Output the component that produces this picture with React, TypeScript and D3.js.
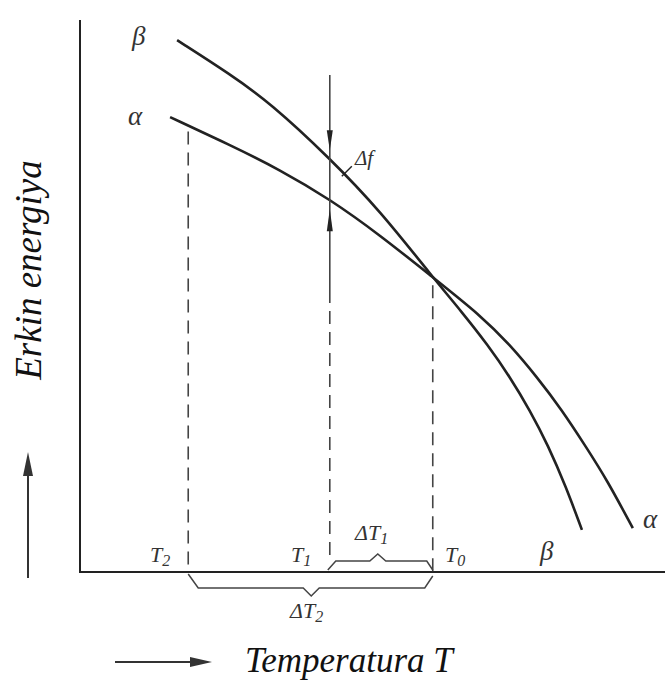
import React from "react";
import * as d3 from "d3";

const W = 671;
const H = 682;

// Curve data (temperature units 0..100, free-energy units 0..100)
const betaT = [16.6, 25.6, 32.5, 42.7, 51.3, 60.3, 65.3, 69.7, 73.5, 76.9, 80.0, 83.1, 85.8];
const betaF = [96.0, 89.9, 84.7, 74.7, 65.2, 53.2, 46.9, 41.0, 35.2, 29.2, 22.9, 15.3, 7.6];
const alphaT = [15.4, 25.6, 34.2, 42.7, 51.3, 60.3, 68.4, 73.5, 78.1, 82.4, 86.3, 90.1, 94.5];
const alphaF = [82.1, 77.1, 72.6, 67.3, 60.8, 53.2, 46.4, 41.0, 35.2, 29.2, 22.9, 16.6, 7.9];

// Characteristic temperatures
const T2 = 18.5;
const T1 = 42.7;
const T0 = 60.3;

const serif = "'Liberation Serif', 'DejaVu Serif', serif";
const ink = "#222";

export default function App() {
  const x = d3.scaleLinear().domain([0, 100]).range([80, 665]);
  const y = d3.scaleLinear().domain([0, 100]).range([572, 18]);

  const line = d3
    .line<[number, number]>()
    .x((d) => x(d[0]))
    .y((d) => y(d[1]))
    .curve(d3.curveBasis);

  const beta: [number, number][] = betaT.map((t, i) => [t, betaF[i]]);
  const alpha: [number, number][] = alphaT.map((t, i) => [t, alphaF[i]]);

  const fAt = (ts: number[], fs: number[], t: number) =>
    d3.scaleLinear().domain(ts).range(fs)(t);

  const x0 = x(0);
  const yAxis = y(0);
  const xT2 = x(T2);
  const xT1 = x(T1);
  const xT0 = x(T0);
  const yBetaT1 = y(fAt(betaT, betaF, T1));
  const yAlphaT1 = y(fAt(alphaT, alphaF, T1));
  const yAlphaT2 = y(fAt(alphaT, alphaF, T2));
  const yCross = y(fAt(alphaT, alphaF, T0));

  const dash = "13 8";

  return (
    <svg
      width={W}
      height={H}
      style={{ position: "absolute", left: 0, top: 0, background: "#fff" }}
    >
      <rect width={W} height={H} fill="#fff" />
      {/* axes */}
      <path
        d={`M${x0},${y(100) + 2} L${x0},${yAxis} L${x(100)},${yAxis}`}
        fill="none"
        stroke={ink}
        strokeWidth={2}
      />
      {/* curves */}
      <path d={line(beta) || ""} fill="none" stroke={ink} strokeWidth={2.6} />
      <path d={line(alpha) || ""} fill="none" stroke={ink} strokeWidth={2.6} />

      {/* T2 dashed */}
      <line x1={xT2} x2={xT2} y1={yAlphaT2 + 6} y2={yAxis} stroke="#444" strokeWidth={1.6} strokeDasharray={dash} />
      {/* T1 line: solid top part, dashed lower */}
      <line x1={xT1} x2={xT1} y1={75} y2={290} stroke="#444" strokeWidth={1.6} />
      <line x1={xT1} x2={xT1} y1={290} y2={yAxis - 10} stroke="#444" strokeWidth={1.6} strokeDasharray={dash} />
      {/* T0 dashed */}
      <line x1={xT0} x2={xT0} y1={yCross + 8} y2={yAxis} stroke="#444" strokeWidth={1.6} strokeDasharray={dash} />

      {/* arrows on T1 */}
      <path
        d={`M${xT1},${yBetaT1 - 8} L${xT1 - 3},${yBetaT1 - 28} L${xT1 + 3},${yBetaT1 - 28} Z`}
        fill={ink}
      />
      <path
        d={`M${xT1},${yAlphaT1 + 10} L${xT1 - 3},${yAlphaT1 + 32} L${xT1 + 3},${yAlphaT1 + 32} Z`}
        fill={ink}
      />
      {/* Δf leader */}
      <line x1={xT1 + 12} y1={yBetaT1 + 18} x2={xT1 + 22} y2={yBetaT1 + 8} stroke={ink} strokeWidth={1.4} />
      <text x={355} y={165} fontFamily={serif} fontStyle="italic" fontSize={21} fill="#333">Δf</text>

      {/* braces */}
      <path
        d={`M${xT1 - 2},${yAxis - 2} L${xT1 + 6},${yAxis - 11} L${xT1 + 40},${yAxis - 11} L${xT1 + 48},${yAxis - 18} L${xT1 + 56},${yAxis - 11} L${xT0 - 6},${yAxis - 11} L${xT0},${yAxis - 2}`}
        fill="none"
        stroke="#444"
        strokeWidth={1.5}
      />
      <path
        d={`M${xT2},${yAxis + 2} L${xT2 + 10},${yAxis + 16} L${xT2 + 115},${yAxis + 16} L${xT2 + 123},${yAxis + 24} L${xT2 + 131},${yAxis + 16} L${xT0 - 8},${yAxis + 16} L${xT0},${yAxis + 4}`}
        fill="none"
        stroke="#444"
        strokeWidth={1.5}
      />

      {/* curve labels */}
      <text x={132} y={45} fontFamily={serif} fontStyle="italic" fontSize={27} fill="#333">β</text>
      <text x={128} y={125} fontFamily={serif} fontStyle="italic" fontSize={27} fill="#333">α</text>
      <text x={540} y={560} fontFamily={serif} fontStyle="italic" fontSize={27} fill="#333">β</text>
      <text x={643} y={528} fontFamily={serif} fontStyle="italic" fontSize={27} fill="#333">α</text>

      {/* temperature labels */}
      <text x={150} y={562} fontFamily={serif} fontStyle="italic" fontSize={22} fill="#333">
        T<tspan fontSize={16} dy={4}>2</tspan>
      </text>
      <text x={291} y={562} fontFamily={serif} fontStyle="italic" fontSize={22} fill="#333">
        T<tspan fontSize={16} dy={4}>1</tspan>
      </text>
      <text x={445} y={562} fontFamily={serif} fontStyle="italic" fontSize={22} fill="#333">
        T<tspan fontSize={16} dy={4}>0</tspan>
      </text>
      <text x={355} y={540} fontFamily={serif} fontStyle="italic" fontSize={22} fill="#333">
        ΔT<tspan fontSize={16} dy={4}>1</tspan>
      </text>
      <text x={290} y={618} fontFamily={serif} fontStyle="italic" fontSize={22} fill="#333">
        ΔT<tspan fontSize={16} dy={4}>2</tspan>
      </text>

      {/* axis titles */}
      <text
        transform={`translate(41,270) rotate(-90)`}
        textAnchor="middle"
        fontFamily={serif}
        fontStyle="italic"
        fontSize={37}
        fill="#111"
      >
        Erkin energiya
      </text>
      <text x={245} y={672} fontFamily={serif} fontStyle="italic" fontSize={35} fill="#111">
        Temperatura T
      </text>

      {/* direction arrows */}
      <line x1={28} y1={578} x2={28} y2={470} stroke="#333" strokeWidth={2} />
      <path d="M28,452 L23,476 L33,476 Z" fill="#333" />
      <line x1={115} y1={662} x2={195} y2={662} stroke="#333" strokeWidth={2} />
      <path d="M212,662 L190,657 L190,667 Z" fill="#333" />
    </svg>
  );
}
